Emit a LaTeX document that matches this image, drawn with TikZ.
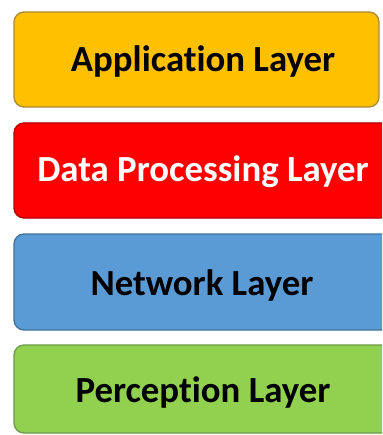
\documentclass[tikz,border=0pt]{standalone}
\usepackage{fontspec}
\setmainfont[Ligatures=NoCommon]{Carlito}
\definecolor{appfill}{HTML}{FFC000}
\definecolor{appline}{HTML}{A88A3A}
\definecolor{datafill}{HTML}{FF0000}
\definecolor{dataline}{HTML}{B00000}
\definecolor{netfill}{HTML}{5B9BD5}
\definecolor{netline}{HTML}{41719C}
\definecolor{perfill}{HTML}{92D050}
\definecolor{perline}{HTML}{6E9A46}
\tikzset{
  layerbox/.style={draw=#1line, fill=#1fill, line width=1.3pt,
    rounded corners=10pt},
  layertext/.style={anchor=base, inner sep=0pt,
    font=\fontsize{36.8}{40}\selectfont\bfseries}
}
\begin{document}
\begin{tikzpicture}[x=1pt,y=-1pt]
  \useasboundingbox (0,0) rectangle (382,435);
  \clip (0,0) rectangle (382,435);
  \fill[white] (0,0) rectangle (382,435);
  % layer boxes, top to bottom
  \draw[layerbox=app]  (14,12)  rectangle (379,107);
  \draw[layerbox=data] (14,123) rectangle (392,218);
  \draw[layerbox=net]  (14,234) rectangle (392,330);
  \draw[layerbox=per]  (14,345) rectangle (392,433);
  % layer names
  \node[layertext, text=black] (app)  at (203,72)  {Application Layer};
  \node[layertext, text=white] (data) at (203,182) {Data Processing Layer};
  \node[layertext, text=black] (net)  at (202,295) {Network Layer};
  \node[layertext, text=black] (per)  at (203,402) {Perception Layer};
\end{tikzpicture}
\end{document}
